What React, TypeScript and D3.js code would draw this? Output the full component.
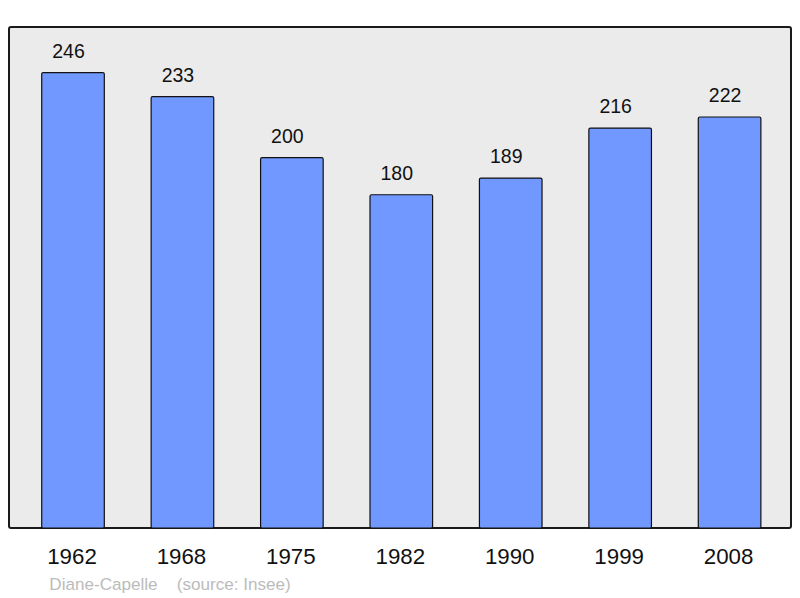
import React from "react";
import * as d3 from "d3";

const years = ["1962", "1968", "1975", "1982", "1990", "1999", "2008"];
const population = [246, 233, 200, 180, 189, 216, 222];
const townName = "Diane-Capelle";
const sourceText = "(source: Insee)";

const W = 800;
const H = 598;
const frame = { x: 9, y: 27, w: 782, h: 501 };

export default function App() {
  const x = d3
    .scaleBand<string>()
    .domain(years)
    .range([18.3, 784.3])
    .paddingInner(0.428)
    .paddingOuter(0.214);
  const y = d3
    .scaleLinear()
    .domain([0, 246 * 1.1])
    .range([frame.y + frame.h, frame.y]);

  const font = "'Liberation Sans', Arial, sans-serif";

  return (
    <svg
      width={W}
      height={H}
      style={{ position: "absolute", left: 0, top: 0, background: "#fff" }}
    >
      <rect
        x={frame.x}
        y={frame.y}
        width={frame.w}
        height={frame.h}
        rx={2}
        fill="#ebebeb"
        stroke="#1a1a1a"
        strokeWidth={2}
      />
      {years.map((yr, i) => {
        const v = population[i];
        const bx = x(yr)!;
        const bw = x.bandwidth();
        const top = y(v);
        return (
          <g key={yr}>
            <rect
              x={bx}
              y={top}
              width={bw}
              height={y(0) - top}
              rx={1.5}
              fill="#7098ff"
              stroke="#111"
              strokeWidth={1.2}
            />
            <text
              x={bx + bw / 2 - 4.5}
              y={top - 15}
              textAnchor="middle"
              fontFamily={font}
              fontSize={19.5}
              fill="#111"
            >
              {v}
            </text>
            <text
              x={bx + bw / 2 - 1}
              y={564.3}
              textAnchor="middle"
              fontFamily={font}
              fontSize={22.3}
              fill="#111"
            >
              {yr}
            </text>
          </g>
        );
      })}
      <text x={49.3} y={590} fontFamily={font} fontSize={17.1} fill="#bbbbbb">
        {townName}
      </text>
      <text x={176.7} y={590} fontFamily={font} fontSize={17.1} fill="#bbbbbb">
        {sourceText}
      </text>
    </svg>
  );
}
